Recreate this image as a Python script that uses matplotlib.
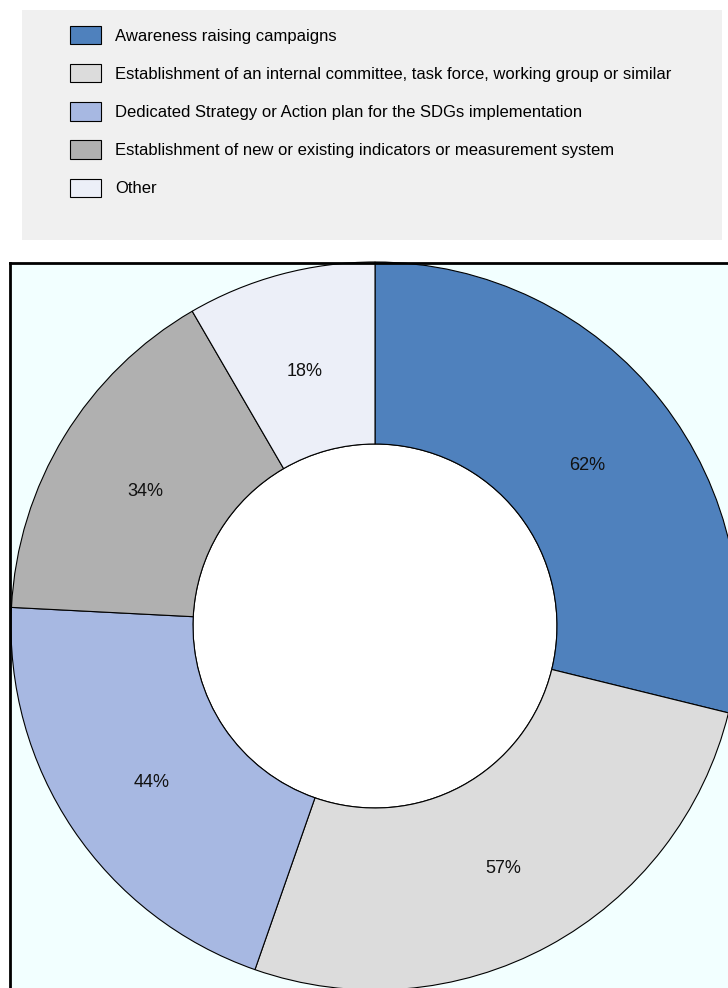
import matplotlib
matplotlib.use("Agg")
import matplotlib.pyplot as plt
from matplotlib.patches import Rectangle, Circle

plt.rcParams['font.family'] = ['Liberation Sans Narrow', 'Liberation Sans', 'DejaVu Sans']

categories = [
    "Awareness raising campaigns",
    "Establishment of an internal committee, task force, working group or similar",
    "Dedicated Strategy or Action plan for the SDGs implementation",
    "Establishment of new or existing indicators or measurement system",
    "Other",
]
values = [62, 57, 44, 34, 18]
colors = ["#4f81bd", "#dcdcdc", "#a7b8e2", "#b0b0b0", "#eceff8"]

W, H = 728, 988
fig = plt.figure(figsize=(W / 100, H / 100), dpi=100)

# grey panel behind the legend
fig.add_artist(Rectangle((22 / W, 1 - 240 / H), 700 / W, 230 / H,
                         transform=fig.transFigure, facecolor="#f0f0f0",
                         edgecolor="none", zorder=0))

# plot area in pixel units, running off the right and bottom edges
left, top, right, bottom = 10, 263, 760, 1028
ax = fig.add_axes([left / W, 1 - bottom / H, (right - left) / W, (bottom - top) / H])
ax.set_facecolor("#f2ffff")

center = (375, -626)
radius = 364
ring = 182
total = sum(values)
wedges, texts, autotexts = ax.pie(
    values, colors=colors, startangle=90, counterclock=False,
    center=center, radius=radius,
    wedgeprops=dict(width=ring, edgecolor="black", linewidth=0.8),
    autopct=lambda p: f"{p * total / 100:.0f}%", pctdistance=0.74,
    textprops=dict(fontsize=13, color="#111111"),
)
for t in autotexts:
    x, y = t.get_position()
    t.set_position((x, y - 6))

# white hole in the middle of the ring
ax.add_patch(Circle(center, radius - ring, facecolor="white",
                    edgecolor="black", linewidth=0.8, zorder=0.5))

ax.set_xlim(left, right)
ax.set_ylim(-bottom, -top)
ax.set_aspect("auto")
ax.set_frame_on(True)
for s in ax.spines.values():
    s.set_linewidth(2)
    s.set_color("black")
ax.set_xticks([])
ax.set_yticks([])

fig.legend(wedges, categories, loc="upper left",
           bbox_to_anchor=(70 / W, 1 - 26 / H), frameon=False,
           fontsize=12, borderpad=0, handlelength=1.86, handleheight=1.3,
           handletextpad=0.84, labelspacing=1.2, borderaxespad=0)

fig.savefig("out.png", dpi=100)
